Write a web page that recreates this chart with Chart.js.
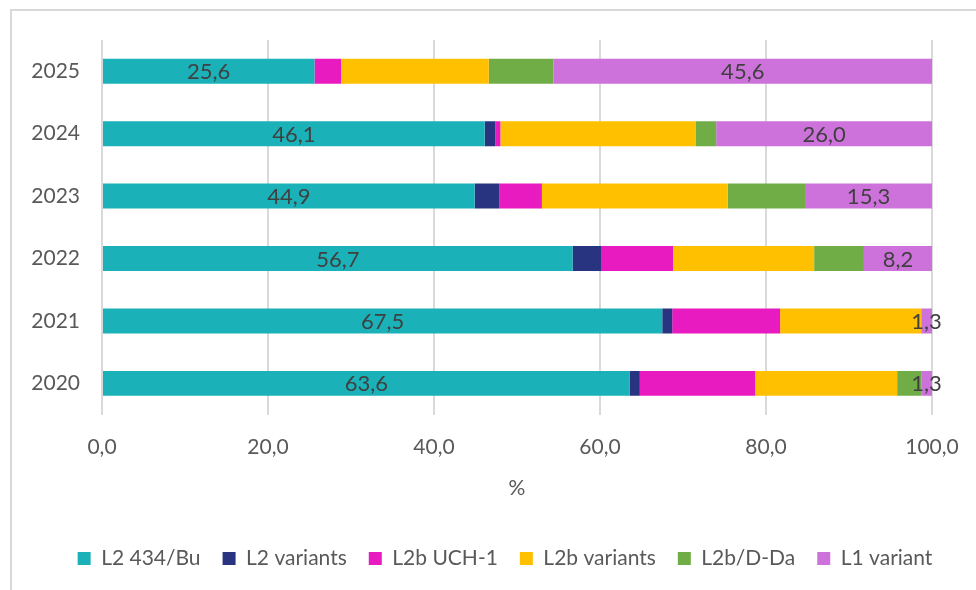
<!DOCTYPE html>
<html>
<head>
<meta charset="utf-8">
<script src="https://cdn.jsdelivr.net/npm/chart.js@4.4.1/dist/chart.umd.min.js"></script>
<style>
  html, body { margin: 0; padding: 0; background: #fff; overflow: hidden; }
  /* chart frame, its right and bottom edges run off the page */
  #frame { position: absolute; left: 10px; top: 9px; width: 1100px; height: 700px; border: 2px solid #d9d9d9; }
  #chart { position: absolute; left: 0; top: 0; }
</style>
</head>
<body>
<div id="frame"></div>
<canvas id="chart" width="976" height="590"></canvas>
<script>
// share of each lineage per year, in %
const years = ["2020", "2021", "2022", "2023", "2024", "2025"];
const seriesNames = ["L2 434/Bu", "L2 variants", "L2b UCH-1", "L2b variants", "L2b/D-Da", "L1 variant"];
const l2Bu        = [63.6, 67.5, 56.7, 44.9, 46.1, 25.6];
const l2Variants  = [1.2, 1.2, 3.5, 3.0, 1.3, 0];
const l2bUch1     = [13.9, 13.0, 8.6, 5.1, 0.6, 3.2];
const l2bVariants = [17.1, 17.0, 17.0, 22.4, 23.5, 17.8];
const l2bDDa      = [2.9, 0, 6.0, 9.3, 2.5, 7.8];
const l1Variant   = [1.3, 1.3, 8.2, 15.3, 26.0, 45.6];
const xTicks = [0, 20, 40, 60, 80, 100];

const seriesValues = [l2Bu, l2Variants, l2bUch1, l2bVariants, l2bDDa, l1Variant];
const seriesColors = ["#1bb1b8", "#283480", "#e81bc0", "#ffc000", "#70ad47", "#cd72db"];
// only these series get a value printed on the bar
const labelledSeries = [0, 5];

const FONT = "Lato, 'Open Sans', sans-serif";
const fmt = v => v.toFixed(1).replace(".", ",");

const valueLabels = {
  id: "valueLabels",
  afterDatasetsDraw(chart) {
    const ctx = chart.ctx;
    ctx.save();
    ctx.font = "22px " + FONT;
    ctx.fillStyle = "#404040";
    ctx.textAlign = "center";
    ctx.textBaseline = "middle";
    labelledSeries.forEach(i => {
      chart.getDatasetMeta(i).data.forEach((bar, j) => {
        const { x, y, base } = bar.getProps(["x", "y", "base"], true);
        ctx.fillText(fmt(chart.data.datasets[i].data[j]), (x + base) / 2, y + 1);
      });
    });
    ctx.restore();
  }
};

// legend sits a little right of the canvas centre
const legendShift = {
  id: "legendShift",
  afterLayout(chart) {
    chart.legend.left += 18;
    chart.legend.right += 18;
  }
};

new Chart(document.getElementById("chart"), {
  type: "bar",
  data: {
    labels: years,
    datasets: seriesNames.map((name, i) => ({
      label: name,
      data: seriesValues[i],
      backgroundColor: seriesColors[i],
      borderWidth: 0,
      categoryPercentage: 1,
      barPercentage: 0.4
    }))
  },
  options: {
    indexAxis: "y",
    responsive: false,
    animation: false,
    devicePixelRatio: 1,
    layout: { padding: { top: 40, left: 12, right: 14, bottom: 11 } },
    plugins: {
      tooltip: { enabled: false },
      legend: {
        position: "bottom",
        labels: {
          boxWidth: 13,
          boxHeight: 13,
          padding: 22,
          color: "#595959",
          font: { family: FONT, size: 21 }
        }
      }
    },
    scales: {
      x: {
        stacked: true,
        min: 0,
        max: 100,
        afterBuildTicks: scale => { scale.ticks = xTicks.map(v => ({ value: v })); },
        // room kept on the right for the "100,0" label
        afterFit: scale => { scale.paddingRight = 44; },
        grid: { color: "#d9d9d9", lineWidth: 2, drawTicks: false },
        border: { display: false },
        ticks: {
          padding: 20,
          color: "#595959",
          font: { family: FONT, size: 21 },
          callback: v => fmt(v)
        },
        title: {
          display: true,
          text: "%",
          color: "#595959",
          font: { family: FONT, size: 21 },
          padding: { top: -4, bottom: 25 }
        }
      },
      y: {
        stacked: true,
        reverse: true,
        grid: { display: false, drawTicks: false },
        border: { display: false },
        afterFit: scale => { scale.width = 90; },
        ticks: {
          padding: 22,
          color: "#595959",
          font: { family: FONT, size: 21 }
        }
      }
    }
  },
  plugins: [valueLabels, legendShift]
});
</script>
</body>
</html>
